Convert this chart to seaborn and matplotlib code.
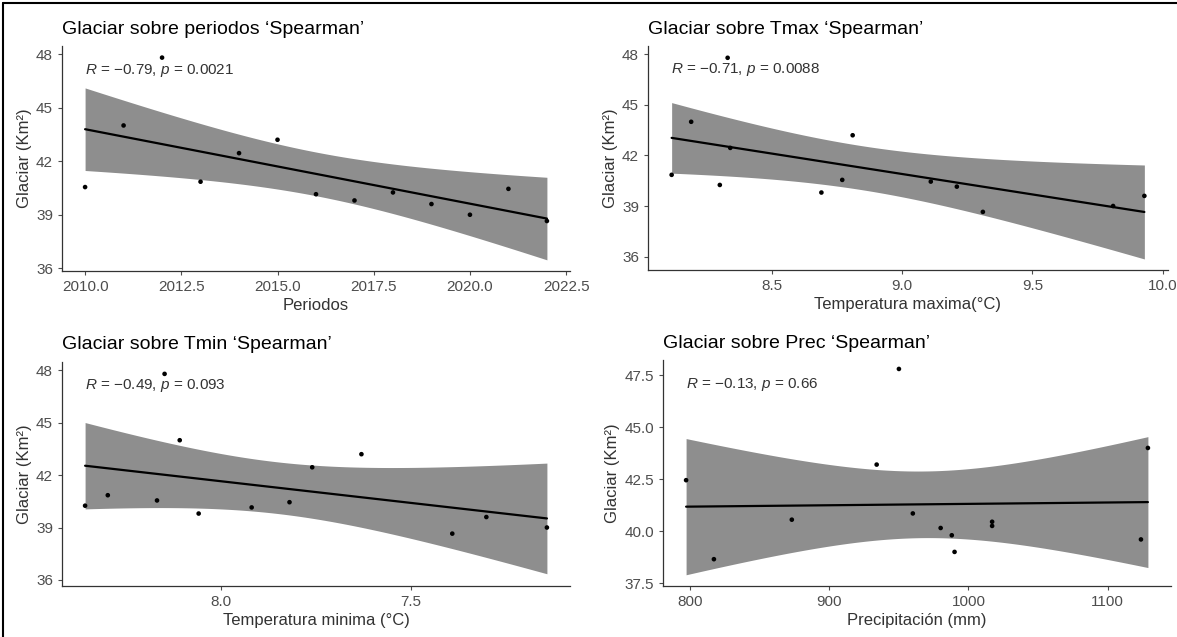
import numpy as np
import pandas as pd
import matplotlib
matplotlib.use("Agg")
import matplotlib.pyplot as plt
import seaborn as sns
from matplotlib.lines import Line2D

# ---------------- data ----------------
years = [2010, 2011, 2012, 2013, 2014, 2015, 2016, 2017, 2018, 2019, 2020, 2021, 2022]
glaciar = [40.55, 44.0, 47.8, 40.85, 42.45, 43.2, 40.15, 39.8, 40.25, 39.6, 39.0, 40.45, 38.65]
tmax = [8.77, 8.19, 8.33, 8.115, 8.34, 8.81, 9.21, 8.69, 8.30, 9.93, 9.81, 9.11, 9.31]
tmin = [8.17, 8.11, 8.15, 8.30, 7.76, 7.63, 7.92, 8.06, 8.36, 7.30, 7.14, 7.82, 7.39]
prec = [873, 1129, 950, 960, 797, 934, 980, 988, 1017, 1124, 990, 1017, 817]

titles = ["Glaciar sobre periodos \u2018Spearman\u2019",
          "Glaciar sobre Tmax \u2018Spearman\u2019",
          "Glaciar sobre Tmin \u2018Spearman\u2019",
          "Glaciar sobre Prec \u2018Spearman\u2019"]
xlabels = ["Periodos", "Temperatura maxima(\u00b0C)",
           "Temperatura minima (\u00b0C)", "Precipitaci\u00f3n (mm)"]
ylabel = "Glaciar (Km\u00b2)"
stats = ["$R$ = \u22120.79, $p$ = 0.0021",
         "$R$ = \u22120.71, $p$ = 0.0088",
         "$R$ = \u22120.49, $p$ = 0.093",
         "$R$ = \u22120.13, $p$ = 0.66"]
xticks = [[2010.0, 2012.5, 2015.0, 2017.5, 2020.0, 2022.5],
          [8.5, 9.0, 9.5, 10.0],
          [8.0, 7.5],
          [800, 900, 1000, 1100]]
xticklabels = [["2010.0", "2012.5", "2015.0", "2017.5", "2020.0", "2022.5"],
               ["8.5", "9.0", "9.5", "10.0"],
               ["8.0", "7.5"],
               ["800", "900", "1000", "1100"]]
yticks = [[36, 39, 42, 45, 48], [36, 39, 42, 45, 48],
          [36, 39, 42, 45, 48], [37.5, 40.0, 42.5, 45.0, 47.5]]
yticklabels = [["36", "39", "42", "45", "48"]] * 3 + [["37.5", "40.0", "42.5", "45.0", "47.5"]]
ylims = [(35.85, 48.45), (35.2, 48.5), (35.65, 48.48), (37.36, 48.23)]

df = pd.DataFrame({"year": years, "glaciar": glaciar, "tmax": tmax,
                   "tmin": tmin, "prec": prec})
xcols = ["year", "tmax", "tmin", "prec"]

# ---------------- style ----------------
sns.set_theme(style="ticks")
plt.rcParams["font.family"] = ["Liberation Sans", "DejaVu Sans"]
plt.rcParams["mathtext.fontset"] = "custom"
plt.rcParams["mathtext.it"] = "Liberation Sans:italic"
plt.rcParams["mathtext.rm"] = "Liberation Sans"

W, H = 1177, 637
fig = plt.figure(figsize=(W / 100, H / 100), dpi=100)

# axes boxes in pixel coordinates: left, right, top, bottom
boxes = [(62, 570, 46, 271), (648, 1168, 46, 270),
         (62, 570, 362, 586), (663, 1171, 360, 586)]

band_color = "#8e8e8e"
tick_color = "#4d4d4d"
T_CRIT = 2.201  # t(0.975, df = 11)

for i, (l, r, t, b) in enumerate(boxes):
    ax = fig.add_axes([l / W, (H - b) / H, (r - l) / W, (b - t) / H])
    x = df[xcols[i]].to_numpy(float)
    y = df["glaciar"].to_numpy(float)
    # linear model confidence band (like geom_smooth(method = "lm"))
    slope, icpt = np.polyfit(x, y, 1)
    n = len(x)
    resid = y - (slope * x + icpt)
    s = np.sqrt(np.sum(resid ** 2) / (n - 2))
    grid = np.linspace(x.min(), x.max(), 200)
    se = s * np.sqrt(1 / n + (grid - x.mean()) ** 2 / np.sum((x - x.mean()) ** 2))
    fit = slope * grid + icpt
    ax.fill_between(grid, fit - T_CRIT * se, fit + T_CRIT * se,
                    color=band_color, lw=0, zorder=1)
    sns.regplot(data=df, x=xcols[i], y="glaciar", ax=ax, scatter=False,
                ci=None, color="black", line_kws={"lw": 1.6, "zorder": 2})
    sns.scatterplot(data=df, x=xcols[i], y="glaciar", ax=ax, color="black",
                    s=11, edgecolor="none", zorder=3)
    ax.set_xticks(xticks[i])
    ax.set_xticklabels(xticklabels[i])
    ax.set_yticks(yticks[i])
    ax.set_yticklabels(yticklabels[i])
    ax.margins(x=0.05)
    ax.set_ylim(*ylims[i])
    if i == 2:
        ax.invert_xaxis()
    ax.set_xlabel(xlabels[i], fontsize=12, color="#333333", labelpad=3)
    ax.set_ylabel(ylabel, fontsize=12, color="#333333", labelpad=3)
    ax.set_title(titles[i], loc="left", fontsize=14, pad=9, color="black")
    ax.tick_params(axis="both", labelsize=11, colors=tick_color, length=3, width=0.8)
    for sp in ["left", "bottom"]:
        ax.spines[sp].set_color("#333333")
        ax.spines[sp].set_linewidth(0.9)
    sns.despine(ax=ax)
    ax.text(0.045, 0.893, stats[i], transform=ax.transAxes, fontsize=11,
            color="#333333", va="center", ha="left")

# frame lines (top and left edges of the figure)
fig.add_artist(Line2D([3 / W, 3 / W], [0, 1 - 3 / H], color="black", lw=1.5))
fig.add_artist(Line2D([3 / W, 1], [1 - 3 / H, 1 - 3 / H], color="black", lw=1.5))

fig.savefig("out.png", dpi=100)
